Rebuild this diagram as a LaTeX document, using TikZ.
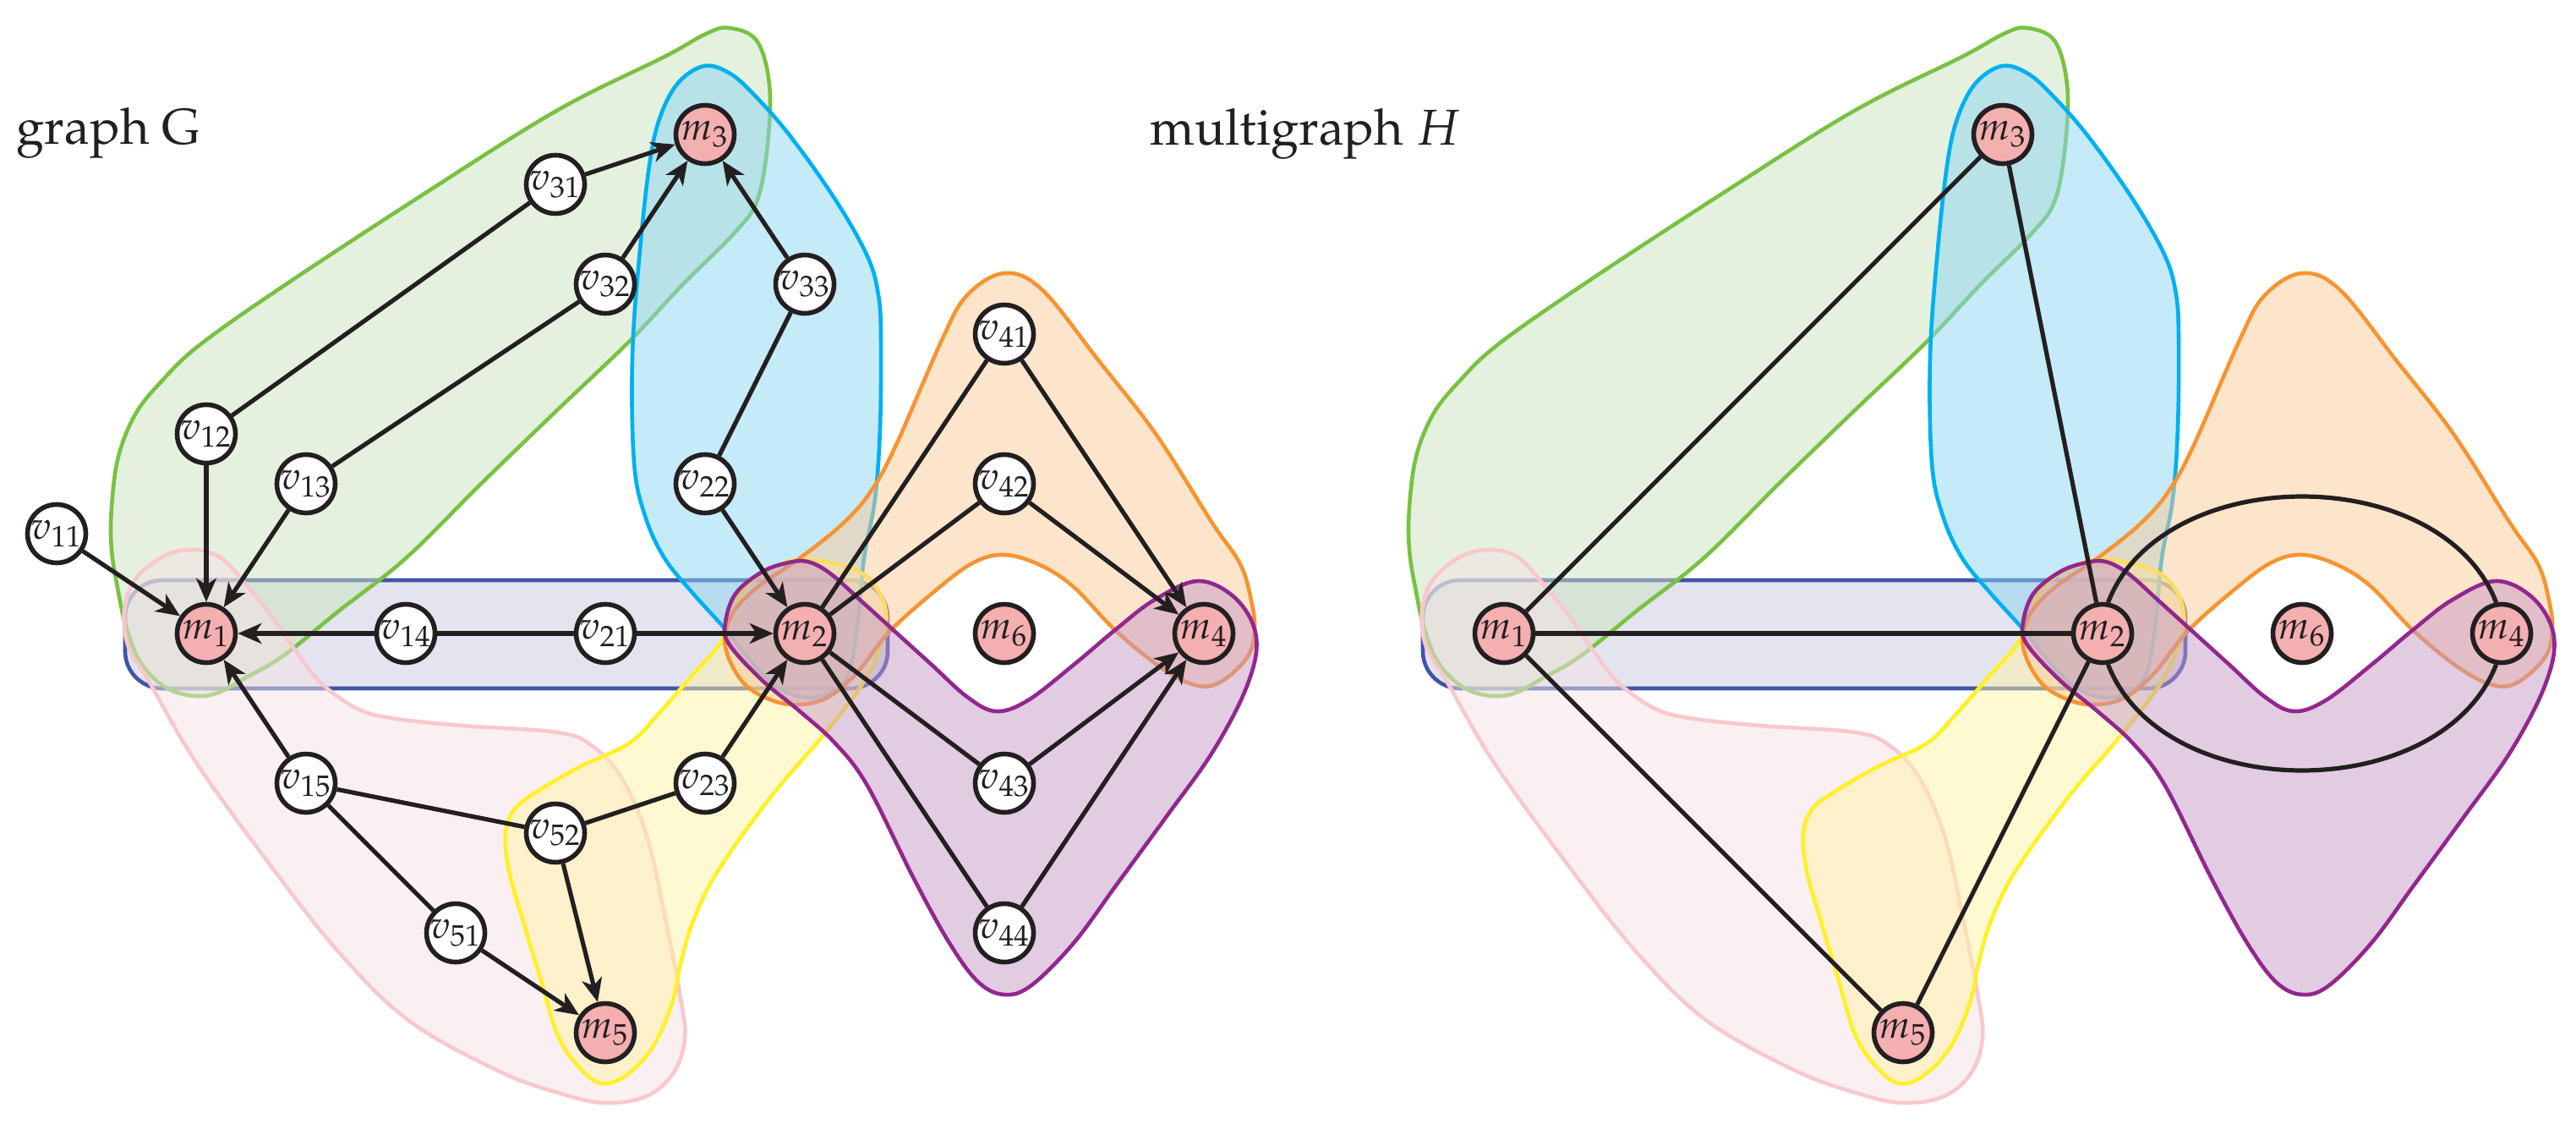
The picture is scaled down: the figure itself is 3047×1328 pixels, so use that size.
\documentclass[tikz,border=0pt]{standalone}
\usepackage[T1]{fontenc}
\usepackage{mathpazo}
\usetikzlibrary{arrows.meta}
\pgfdeclarelayer{hyper}
\pgfsetlayers{hyper,main}
\definecolor{ink}{RGB}{35,31,32}
\definecolor{mpink}{RGB}{244,175,177}
\definecolor{cgreen}{RGB}{122,193,67}
\definecolor{fgreen}{RGB}{203,227,191}
\definecolor{cblue}{RGB}{0,176,240}
\definecolor{fblue}{RGB}{139,213,241}
\definecolor{cnavy}{RGB}{64,84,168}
\definecolor{fnavy}{RGB}{199,201,225}
\definecolor{corange}{RGB}{247,148,50}
\definecolor{forange}{RGB}{251,203,153}
\definecolor{cpurple}{RGB}{146,39,143}
\definecolor{fpurple}{RGB}{197,153,197}
\definecolor{cpink}{RGB}{248,200,205}
\definecolor{fpink}{RGB}{245,225,229}
\definecolor{cyellow}{RGB}{255,240,40}
\definecolor{fyellow}{RGB}{255,243,165}
\tikzset{
  basenode/.style={circle, draw=ink, line width=1.4pt, minimum size=17.25pt, inner sep=0pt, font=\fontsize{11.5}{13}\selectfont, text=ink},
  mnode/.style={basenode, fill=mpink},
  vnode/.style={basenode, fill=white},
  title/.style={inner sep=0pt, anchor=base west, font=\fontsize{14.9}{17}\selectfont, text=ink},
  edge/.style={draw=ink, line width=1.3pt},
  arr/.style={edge, -{Stealth[length=7pt,width=6pt,inset=2pt]}},
  hyp/.style={line width=1.15pt, fill opacity=0.5},
  hgreen/.style={hyp, draw=cgreen, fill=fgreen},
  hblue/.style={hyp, draw=cblue, fill=fblue},
  hnavy/.style={hyp, draw=cnavy, fill=fnavy},
  horange/.style={hyp, draw=corange, fill=forange},
  hpurple/.style={hyp, draw=cpurple, fill=fpurple},
  hpink/.style={hyp, draw=cpink, fill=fpink},
  hyellow/.style={hyp, draw=cyellow, fill=fyellow}
}
\begin{document}
\begin{tikzpicture}[x=0.25pt,y=-0.25pt]
\useasboundingbox (0,0) rectangle (3047,1328);

% titles
\node[title] (tG) at (19,170) {graph G};
\node[title] (tH) at (1360,171) {multigraph $H$};

% ---------- graph G ----------
\node[mnode] (m1) at (244,749) {$m_1$};
\node[mnode] (m2) at (952,749) {$m_2$};
\node[mnode] (m3) at (834,159) {$m_3$};
\node[mnode] (m4) at (1424,749) {$m_4$};
\node[mnode] (m5) at (716,1221) {$m_5$};
\node[mnode] (m6) at (1188,749) {$m_6$};
\node[vnode] (v11) at (67,631) {$v_{11}$};
\node[vnode] (v12) at (244,513) {$v_{12}$};
\node[vnode] (v13) at (362,572) {$v_{13}$};
\node[vnode] (v14) at (480,749) {$v_{14}$};
\node[vnode] (v15) at (362,926) {$v_{15}$};
\node[vnode] (v21) at (716,749) {$v_{21}$};
\node[vnode] (v22) at (834,572) {$v_{22}$};
\node[vnode] (v23) at (834,926) {$v_{23}$};
\node[vnode] (v31) at (657,218) {$v_{31}$};
\node[vnode] (v32) at (716,336) {$v_{32}$};
\node[vnode] (v33) at (952,336) {$v_{33}$};
\node[vnode] (v41) at (1188,395) {$v_{41}$};
\node[vnode] (v42) at (1188,572) {$v_{42}$};
\node[vnode] (v43) at (1188,926) {$v_{43}$};
\node[vnode] (v44) at (1188,1103) {$v_{44}$};
\node[vnode] (v51) at (539,1103) {$v_{51}$};
\node[vnode] (v52) at (657,985) {$v_{52}$};

\draw[arr] (v11) -- (m1);
\draw[arr] (v12) -- (m1);
\draw[arr] (v13) -- (m1);
\draw[edge] (v12) -- (v31);
\draw[arr] (v31) -- (m3);
\draw[edge] (v13) -- (v32);
\draw[arr] (v32) -- (m3);
\draw[arr] (v33) -- (m3);
\draw[edge] (v22) -- (v33);
\draw[arr] (v22) -- (m2);
\draw[arr] (v14) -- (m1);
\draw[edge] (v14) -- (v21);
\draw[arr] (v21) -- (m2);
\draw[arr] (v15) -- (m1);
\draw[edge] (v15) -- (v52);
\draw[edge] (v15) -- (v51);
\draw[arr] (v51) -- (m5);
\draw[arr] (v52) -- (m5);
\draw[edge] (v52) -- (v23);
\draw[arr] (v23) -- (m2);
\draw[edge] (m2) -- (v41);
\draw[edge] (m2) -- (v42);
\draw[edge] (m2) -- (v43);
\draw[edge] (m2) -- (v44);
\draw[arr] (v41) -- (m4);
\draw[arr] (v42) -- (m4);
\draw[arr] (v43) -- (m4);
\draw[arr] (v44) -- (m4);

% ---------- multigraph H ----------
\node[mnode] (r1) at (1779,749) {$m_1$};
\node[mnode] (r2) at (2487,749) {$m_2$};
\node[mnode] (r3) at (2369,159) {$m_3$};
\node[mnode] (r4) at (2959,749) {$m_4$};
\node[mnode] (r5) at (2251,1221) {$m_5$};
\node[mnode] (r6) at (2723,749) {$m_6$};

\draw[edge] (r1) -- (r3);
\draw[edge] (r1) -- (r2);
\draw[edge] (r1) -- (r5);
\draw[edge] (r2) -- (r3);
\draw[edge] (r2) -- (r5);
\draw[edge] (r2.80) .. controls +(65,-167) and +(-65,-167) .. (r4.100);
\draw[edge] (r2.-80) .. controls +(65,167) and +(-65,167) .. (r4.-100);

% ---------- hyperedges ----------
\begin{pgfonlayer}{hyper}
\foreach \s in {0,1535}{
\begin{scope}[shift={(\s,0)}]
  \draw[hnavy, rounded corners=11pt] (148,686) rectangle (1050,814);
  \draw[hgreen] plot[smooth cycle, tension=0.6] coordinates {
    (862,33) (895,48) (910,100) (908,170) (896,236) (870,274) (807,337)
    (744,404) (660,484) (571,570) (480,660) (400,723) (337,774) (295,799)
    (248,822) (202,816) (168,786) (150,744) (140,700) (132,650) (132,600)
    (140,540) (160,490) (190,452) (236,408) (337,337) (505,227) (660,130)
    (786,67) (835,40)};
  \draw[hblue] plot[smooth cycle, tension=0.6] coordinates {
    (833,78) (862,86) (890,110) (934,160) (988,236) (1026,303) (1039,349)
    (1042,400) (1041,505) (1035,590) (1022,660) (1014,740) (1002,800)
    (975,822) (940,822) (905,800) (858,744) (820,702) (786,660) (763,610)
    (750,547) (748,421) (757,295) (769,189) (782,135) (803,97)};
  \draw[hpink] plot[smooth cycle, tension=0.6] coordinates {
    (231,650) (262,660) (290,690) (320,727) (350,770) (379,807) (421,837)
    (463,849) (547,858) (660,866) (702,883) (736,921) (765,988) (786,1081)
    (805,1180) (810,1228) (797,1268) (765,1296) (715,1304) (660,1292)
    (589,1266) (484,1207) (400,1125) (316,1018) (231,900) (177,807)
    (152,765) (147,723) (160,685) (195,657)};
  \draw[hyellow] plot[smooth cycle, tension=0.6] coordinates {
    (711,1281) (740,1272) (772,1238) (795,1186) (805,1140) (820,1089)
    (849,1030) (912,942) (980,862) (1026,799) (1047,744) (1043,706)
    (1018,677) (963,662) (921,668) (879,698) (854,757) (820,797)
    (778,845) (744,879) (687,906) (640,933) (610,955) (598,984) (602,1030)
    (619,1090) (640,1160) (660,1225) (685,1262)};
  \draw[horange] plot[smooth cycle, tension=0.6] coordinates {
    (1188,323) (1233,343) (1300,427) (1367,513) (1433,617) (1467,667)
    (1480,710) (1484,745) (1476,776) (1446,805) (1418,811) (1377,792)
    (1320,746) (1270,694) (1230,668) (1188,656) (1150,666) (1102,702)
    (1051,748) (1014,795) (980,824) (946,833) (913,828) (879,807)
    (858,765) (865,728) (895,695) (946,660) (997,619) (1030,581)
    (1060,526) (1115,400) (1144,349)};
  \draw[hpurple] plot[smooth cycle, tension=0.6] coordinates {
    (955,664) (982,678) (1018,710) (1060,748) (1102,786) (1144,824)
    (1178,841) (1216,828) (1270,786) (1320,744) (1366,709) (1418,687)
    (1463,709) (1486,754) (1475,811) (1435,888) (1380,965) (1320,1047)
    (1270,1115) (1220,1165) (1188,1176) (1157,1161) (1123,1115)
    (1081,1039) (1026,929) (988,879) (946,841) (900,803) (862,761)
    (858,736) (870,702) (900,677) (929,666)};
\end{scope}
}
\end{pgfonlayer}
\end{tikzpicture}
\end{document}
